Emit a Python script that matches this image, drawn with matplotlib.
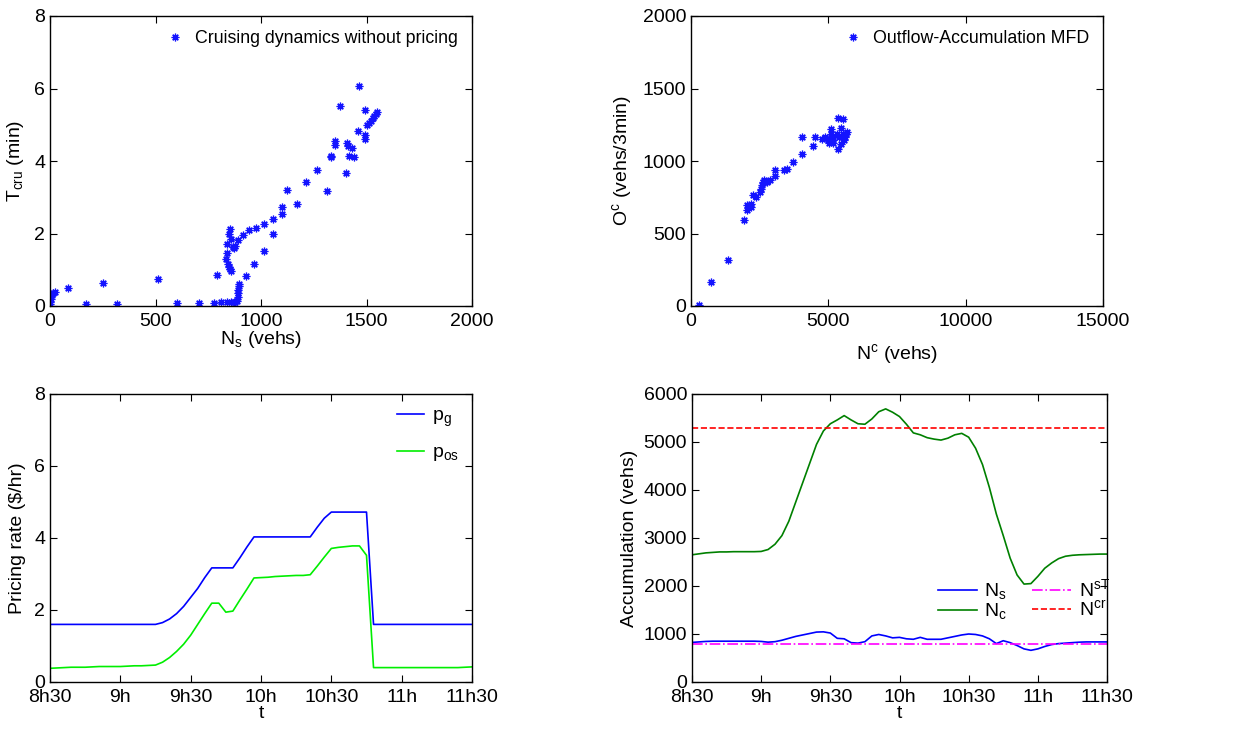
import matplotlib
matplotlib.use("Agg")
import matplotlib.pyplot as plt
import numpy as np

plt.rcParams.update({
    "font.family": "Liberation Sans", "font.size": 14,
    "mathtext.default": "regular",
    "xtick.direction": "in", "ytick.direction": "in",
    "xtick.top": True, "ytick.right": True,
    "xtick.major.size": 5, "ytick.major.size": 5,
    "xtick.major.pad": 5,
    "axes.linewidth": 1.0,
})

# ---- top left: cruising time vs parking-searching accumulation ----
ns_pts = [0, 3, 8, 0, 13, 24, 87, 253, 171, 319, 514, 601, 707, 775, 810, 838, 857, 870,
          877, 885, 889, 890, 892, 895, 898, 928, 968, 1012, 1056, 1059, 1099, 1099, 1124,
          1170, 1214, 1266, 1315, 1333, 1333, 1352, 1352, 1375, 1402, 1407, 1412, 1415,
          1431, 1442, 1462, 1466, 1493, 1493, 1494, 1502, 1510, 1521, 1530, 1537, 1545, 1551,
          790, 835, 838, 839, 847, 851, 843, 847, 854, 857, 859, 865, 870, 877, 889, 914,
          941, 977, 1012]
tcru_pts = [0.11, 0.2, 0.3, 0.06, 0.35, 0.38, 0.5, 0.63, 0.06, 0.06, 0.75, 0.08, 0.08, 0.08,
            0.1, 0.1, 0.1, 0.1, 0.12, 0.15, 0.25, 0.35, 0.45, 0.55, 0.6, 0.83, 1.15, 1.53,
            2.0, 2.39, 2.55, 2.72, 3.19, 2.81, 3.41, 3.75, 3.17, 4.15, 4.1, 4.55, 4.45, 5.52,
            3.67, 4.5, 4.42, 4.15, 4.35, 4.1, 4.83, 6.07, 5.4, 4.72, 4.6, 5.0, 5.05, 5.1, 5.2,
            5.25, 5.3, 5.35, 0.86, 1.3, 1.45, 1.72, 2.0, 2.13, 1.17, 1.08, 1.03, 0.97, 1.84,
            1.63, 1.6, 1.65, 1.81, 1.97, 2.09, 2.16, 2.25]

# ---- top right: outflow-accumulation MFD ----
nc_pts = [303, 727, 1345, 1914, 2036, 2036, 2181, 2193, 2242, 2375, 2496, 2545, 2581, 2617,
          2654, 2700, 2763, 2860, 3066, 3066, 3368, 3490, 3708, 4047, 4047, 4435, 4520, 4762,
          4883, 5004, 5041, 5089, 5101, 5126, 5162, 5186, 5368, 5368, 5331, 5392, 5452, 5465,
          5525, 5550, 5574, 5610, 5647, 5695]
oc_pts = [5, 166, 320, 590, 665, 694, 683, 706, 768, 752, 786, 809, 832, 855, 867, 855, 855,
          867, 894, 940, 940, 943, 993, 1051, 1166, 1103, 1166, 1154, 1166, 1143, 1126, 1223,
          1189, 1166, 1124, 1143, 1297, 1085, 1189, 1166, 1230, 1120, 1189, 1292, 1143, 1166,
          1189, 1200]

# ---- bottom: time series, every 3 min from 8h30 (minutes after 8h30) ----
t = np.arange(0, 181, 3)
p_g = [1.6] * 16 + [1.65, 1.75, 1.9, 2.1, 2.35, 2.6, 2.9, 3.17, 3.17, 3.17, 3.17, 3.45, 3.75,
       4.03, 4.03, 4.03, 4.03, 4.03, 4.03, 4.03, 4.03, 4.03, 4.3, 4.55, 4.72, 4.72, 4.72,
       4.72, 4.72, 4.72] + [1.6] * 15
p_os = [0.38, 0.39, 0.4, 0.41, 0.41, 0.41, 0.42, 0.43, 0.43, 0.43, 0.43, 0.44, 0.45, 0.45,
        0.46, 0.47, 0.55, 0.68, 0.85, 1.05, 1.3, 1.6, 1.9, 2.19, 2.19, 1.94, 1.97, 2.28, 2.58,
        2.89, 2.9, 2.91, 2.93, 2.94, 2.95, 2.96, 2.96, 2.98, 3.22, 3.47, 3.71, 3.74, 3.76,
        3.78, 3.78, 3.52, 0.4, 0.4, 0.4, 0.4, 0.4, 0.4, 0.4, 0.4, 0.4, 0.4, 0.4, 0.4, 0.4,
        0.41, 0.42]
N_c = [2650, 2670, 2690, 2700, 2710, 2710, 2715, 2715, 2715, 2715, 2720, 2760, 2870, 3050,
       3350, 3750, 4150, 4550, 4950, 5230, 5380, 5460, 5550, 5460, 5380, 5370, 5480, 5630,
       5690, 5620, 5530, 5370, 5190, 5150, 5090, 5060, 5040, 5080, 5150, 5180, 5100, 4870,
       4530, 4050, 3500, 3050, 2580, 2230, 2040, 2050, 2200, 2370, 2480, 2570, 2620, 2640,
       2650, 2655, 2660, 2665, 2665]
N_s = [825, 835, 845, 850, 850, 850, 850, 850, 850, 850, 845, 830, 840, 870, 910, 950, 980,
       1010, 1040, 1045, 1020, 910, 900, 820, 810, 840, 960, 990, 960, 920, 930, 900, 890,
       930, 890, 890, 890, 920, 950, 980, 1000, 990, 960, 900, 800, 860, 820, 760, 690, 660,
       690, 740, 780, 800, 810, 820, 830, 835, 835, 835, 835]
N_sT = 800
N_cr = 5300
t_ticks = [0, 30, 60, 90, 120, 150, 180]
t_labels = ["8h30", "9h", "9h30", "10h", "10h30", "11h", "11h30"]

fig = plt.figure(figsize=(12.53, 7.29), dpi=100)
W, H = 1253, 729
def add(l, tp, r, b):
    return fig.add_axes([l / W, 1 - b / H, (r - l) / W, (b - tp) / H])

star = dict(marker=(8, 2, 0), linestyle="none", color="#1414ff", markersize=5.5, mew=0.9)

ax1 = add(50, 16, 472, 306)
ax1.plot(ns_pts, tcru_pts, label="Cruising dynamics without pricing", **star)
ax1.set_xlim(0, 2000); ax1.set_ylim(0, 8)
ax1.set_xticks([0, 500, 1000, 1500, 2000]); ax1.set_yticks([0, 2, 4, 6, 8])
ax1.set_xlabel("$N_s$ (vehs)", labelpad=-1)
ax1.set_ylabel("$T_{cru}$ (min)", labelpad=6)
ax1.legend(loc="upper right", frameon=False, handletextpad=0.6, borderaxespad=0.4,
           handlelength=1.0, fontsize=12.8)

ax2 = add(691, 16, 1103, 306)
ax2.plot(nc_pts, oc_pts, label="Outflow-Accumulation MFD", **star)
ax2.set_xlim(0, 15000); ax2.set_ylim(0, 2000)
ax2.set_xticks([0, 5000, 10000, 15000]); ax2.set_yticks([0, 500, 1000, 1500, 2000])
ax2.set_xlabel("$N^c$ (vehs)", labelpad=9)
ax2.set_ylabel("$O^c$ (vehs/3min)", labelpad=6)
ax2.legend(loc="upper right", frameon=False, handletextpad=0.6, borderaxespad=0.4,
           handlelength=1.0, fontsize=12.8)

ax3 = add(50, 394, 472, 682)
ax3.plot(t, p_g, color="#0000ff", lw=1.2, label="$p_g$")
ax3.plot(t, p_os, color="#00ee00", lw=1.2, label="$p_{os}$")
ax3.set_xlim(0, 180); ax3.set_ylim(0, 8)
ax3.set_xticks(t_ticks); ax3.set_xticklabels(t_labels); ax3.set_yticks([0, 2, 4, 6, 8])
ax3.set_xlabel("t", labelpad=-1)
ax3.set_ylabel("Pricing rate ($/hr)", labelpad=6)
ax3.legend(loc="upper right", frameon=False, handlelength=1.4, labelspacing=0.75,
           handletextpad=0.4, borderaxespad=0.3)

ax4 = add(692, 394, 1107, 682)
h1, = ax4.plot(t, N_s, color="#0000ff", lw=1.2, label="$N_s$")
h2, = ax4.plot(t, N_c, color="#008000", lw=1.2, label="$N_c$")
h3 = ax4.axhline(N_sT, color="#ff00ff", lw=1.2, ls="-.", label="$N^{sT}$")
h4 = ax4.axhline(N_cr, color="#ff0000", lw=1.2, ls="--", label="$N^{cr}$")
ax4.set_xlim(0, 180); ax4.set_ylim(0, 6000)
ax4.set_xticks(t_ticks); ax4.set_xticklabels(t_labels)
ax4.set_yticks(range(0, 6001, 1000))
ax4.set_xlabel("t", labelpad=-1)
ax4.set_ylabel("Accumulation (vehs)", labelpad=4)
ax4.legend(handles=[h1, h2, h3, h4], ncol=2, frameon=False, loc="center",
           bbox_to_anchor=(0.8, 0.285), fontsize=14, handlelength=2.0, columnspacing=1.3,
           labelspacing=0.0, handletextpad=0.4)

fig.savefig("out.png", dpi=100)
